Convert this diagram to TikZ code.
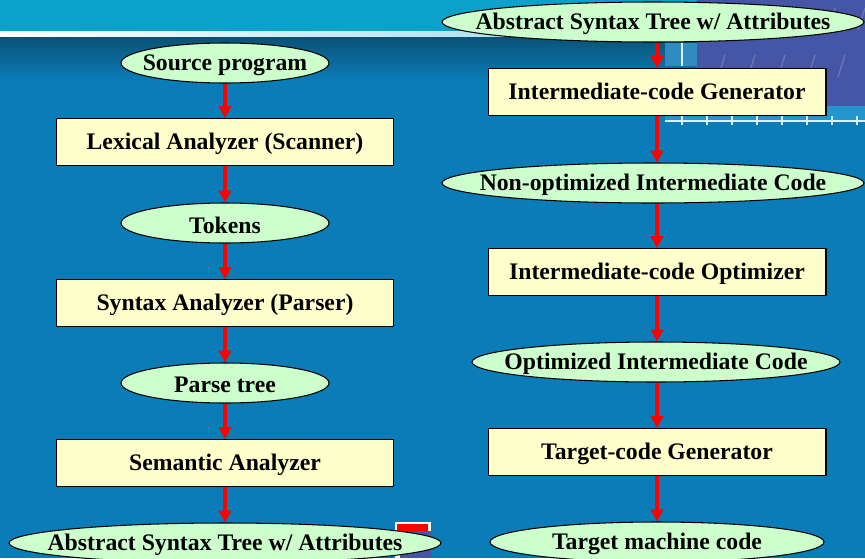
\documentclass[tikz,border=0pt]{standalone}
\usepackage{fontspec}
\setmainfont{Liberation Serif}
\usetikzlibrary{arrows.meta,shapes.geometric}
\definecolor{slideblue}{HTML}{0A7CB8}
\definecolor{bandcyan}{HTML}{0AA2CA}
\definecolor{darkband}{HTML}{0A5276}
\definecolor{panelpurple}{HTML}{4656A6}
\definecolor{ellgreen}{HTML}{CCFFCC}
\definecolor{boxyellow}{HTML}{FFFFCC}
\tikzset{
	dtext/.style={font=\bfseries\fontsize{13.5}{16}\selectfont, inner sep=0pt, yshift=-1.2pt},
	dataell/.style={ellipse, draw=black, line width=0.6pt, fill=ellgreen, minimum width=#1, minimum height=0.8cm, inner sep=0pt},
	phasebox/.style={rectangle, draw=black, line width=0.6pt, fill=boxyellow, minimum width=6.76cm, minimum height=0.94cm, inner xsep=2pt, text height=1.1em, text depth=0.2em, font=\bfseries\fontsize{13.5}{16}\selectfont},
	flow/.style={draw=red, line width=1.9pt, -{Triangle[width=7pt,length=6.8pt]}}
}
\newcommand{\dataitem}[4]{%
	\node[dataell=#3] (#1) at (#2) {};
	\node[dtext] (#1t) at (#1) {#4};
}
\begin{document}
\begin{tikzpicture}[x=0.02cm, y=-0.02cm]
			%%%%% BACKGROUND %%%%%
			\useasboundingbox (0,0) rectangle (865,558);
			\clip (0,0) rectangle (865,558);
			\fill[slideblue] (0,0) rectangle (865,558);
			\fill[bandcyan] (0,0) rectangle (865,31);
			\shade[left color=white, right color=white!45!bandcyan] (0,31) rectangle (865,37);
			\shade[top color=darkband, bottom color=slideblue] (0,37) rectangle (865,80);
			
			\fill[panelpurple] (697,0) rectangle (865,106);
			\foreach \x in {715,745,...,865}
				\draw[white, opacity=0.18, line width=0.8pt] (\x,8) -- ++(-7,22) (\x+10,55) -- ++(-7,22);
			\fill[cyan!55!slideblue] (665,106) rectangle (865,121);
			\fill[cyan!35!slideblue] (665,43) rectangle (697,66);
			\draw[white!85!cyan, line width=0.6pt] (682,43) -- (682,66);
			\draw[white!85!cyan, line width=0.6pt] (665,121) -- (865,121);
			\foreach \x in {682,707,...,865}
				\draw[white!85!cyan, line width=0.6pt] (\x,116) -- (\x,125);
			
			\fill[white] (395,522) rectangle (431,558);
			\fill[red] (397,524) rectangle (428,531);
			\fill[panelpurple] (400,531) rectangle (431,558);
			
			%%%%% START %%%%%
			
			\dataitem{src}{225,63}{4.16cm}{Source program}
			\node[phasebox] (lex) at (225,142) {Lexical Analyzer (Scanner)};
			\dataitem{tok}{225,223}{4.16cm}{Tokens}
			\node[phasebox] (syn) at (225,303) {Syntax Analyzer (Parser)};
			\dataitem{ptree}{225,383}{4.16cm}{Parse tree}
			\node[phasebox] (sem) at (225,463) {Semantic Analyzer};
			\dataitem{astl}{225,543}{8.64cm}{Abstract Syntax Tree w/ Attributes}
			
			\dataitem{astr}{653,22}{8.44cm}{Abstract Syntax Tree w/ Attributes}
			\node[phasebox] (icg) at (657,92) {Intermediate-code Generator};
			\dataitem{nonopt}{653,183}{8.44cm}{Non-optimized Intermediate Code}
			\node[phasebox] (icopt) at (657,272) {Intermediate-code Optimizer};
			\dataitem{optc}{656,362}{7.36cm}{Optimized Intermediate Code}
			\node[phasebox] (tcg) at (657,452) {Target-code Generator};
			\dataitem{tmc}{657,542}{6.68cm}{Target machine code}
			
			\draw[flow] (src) -- (lex);
			\draw[flow] (lex) -- (tok);
			\draw[flow] (tok) -- (syn);
			\draw[flow] (syn) -- (ptree);
			\draw[flow] (ptree) -- (sem);
			\draw[flow] (sem) -- (astl);
			
			\draw[flow] (astr.south -| icg) -- (icg);
			\draw[flow] (icg) -- (icg |- nonopt.north);
			\draw[flow] (nonopt.south -| icopt) -- (icopt);
			\draw[flow] (icopt) -- (icopt |- optc.north);
			\draw[flow] (optc.south -| tcg) -- (tcg);
			\draw[flow] (tcg) -- (tmc);
			
			%%%%% END %%%%%
\end{tikzpicture}
\end{document}
